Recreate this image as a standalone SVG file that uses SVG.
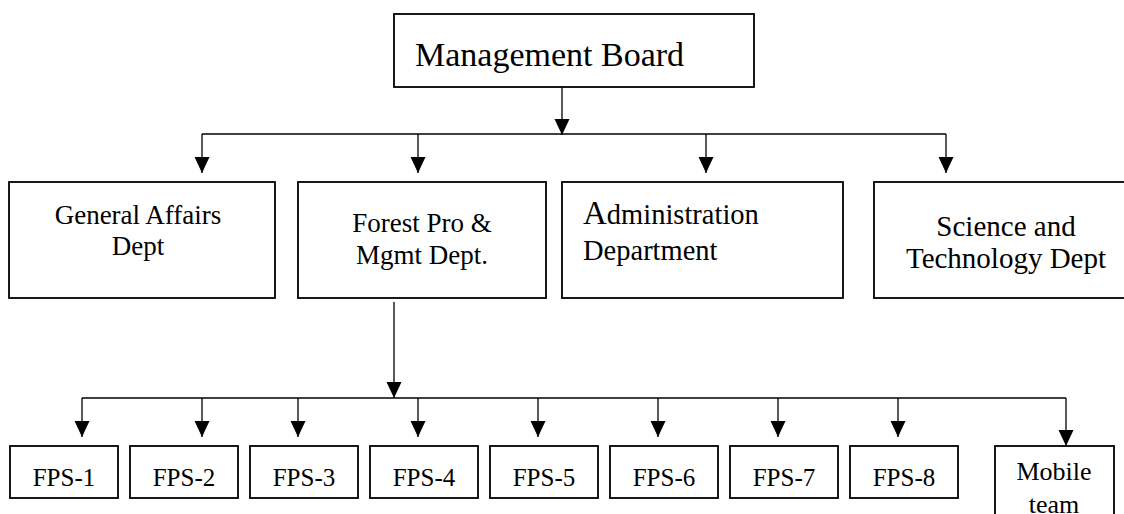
<svg xmlns="http://www.w3.org/2000/svg" width="1124" height="514" viewBox="0 0 1124 514">
<style>
.box{fill:#fff;stroke:#000;stroke-width:1.8}
.t{font-family:"Liberation Serif","Times New Roman",serif;fill:#000}
.c{fill:none;stroke:#000;stroke-width:1.3}
</style>
<defs>
<marker id="ah" markerWidth="16" markerHeight="16" refX="16" refY="8" orient="auto" markerUnits="userSpaceOnUse">
<path d="M0,0.5 L16,8 L0,15.5 z" fill="#000"/>
</marker>
</defs>
<rect width="1124" height="514" fill="#fff"/>
<g id="connectors">
<path class="c" d="M562,87 V135" marker-end="url(#ah)"/>
<path class="c" d="M202,134 H946"/>
<path class="c" d="M202,134 V173" marker-end="url(#ah)"/>
<path class="c" d="M418,134 V173" marker-end="url(#ah)"/>
<path class="c" d="M706,134 V173" marker-end="url(#ah)"/>
<path class="c" d="M946,134 V173" marker-end="url(#ah)"/>
<path class="c" d="M394,302 V398" marker-end="url(#ah)"/>
<path class="c" d="M82,398 H1066"/>
<path class="c" d="M82,398 V437" marker-end="url(#ah)"/>
<path class="c" d="M202,398 V437" marker-end="url(#ah)"/>
<path class="c" d="M298,398 V437" marker-end="url(#ah)"/>
<path class="c" d="M418,398 V437" marker-end="url(#ah)"/>
<path class="c" d="M538,398 V437" marker-end="url(#ah)"/>
<path class="c" d="M658,398 V437" marker-end="url(#ah)"/>
<path class="c" d="M778,398 V437" marker-end="url(#ah)"/>
<path class="c" d="M898,398 V437" marker-end="url(#ah)"/>
<path class="c" d="M1066,398 V446" marker-end="url(#ah)"/>
</g>
<g id="management-board">
<rect class="box" x="394" y="14" width="360" height="73"/>
<text class="t" x="415" y="66" font-size="34">Management Board</text>
</g>
<g id="general-affairs">
<rect class="box" x="9" y="182" width="266" height="116"/>
<text class="t" x="138" y="224" font-size="27" text-anchor="middle">General Affairs</text>
<text class="t" x="138" y="255" font-size="27" text-anchor="middle">Dept</text>
</g>
<g id="forest-pro">
<rect class="box" x="298" y="182" width="248" height="116"/>
<text class="t" x="422" y="232" font-size="27" text-anchor="middle">Forest Pro &amp;</text>
<text class="t" x="422" y="264" font-size="27" text-anchor="middle">Mgmt Dept.</text>
</g>
<g id="administration">
<rect class="box" x="562" y="182" width="281" height="116"/>
<text class="t" x="583" y="224" font-size="28.5"><tspan font-size="33">A</tspan>dministration</text>
<text class="t" x="583" y="260" font-size="28.5">Department</text>
</g>
<g id="science">
<rect class="box" x="874" y="182" width="260" height="116"/>
<text class="t" x="1006" y="236" font-size="29" text-anchor="middle">Science and</text>
<text class="t" x="1006" y="268" font-size="29" text-anchor="middle">Technology Dept</text>
</g>
<g id="fps-1"><rect class="box" x="10" y="446" width="108" height="52"/><text class="t" x="64" y="486" font-size="25" text-anchor="middle">FPS-1</text></g>
<g id="fps-2"><rect class="box" x="130" y="446" width="108" height="52"/><text class="t" x="184" y="486" font-size="25" text-anchor="middle">FPS-2</text></g>
<g id="fps-3"><rect class="box" x="250" y="446" width="108" height="52"/><text class="t" x="304" y="486" font-size="25" text-anchor="middle">FPS-3</text></g>
<g id="fps-4"><rect class="box" x="370" y="446" width="108" height="52"/><text class="t" x="424" y="486" font-size="25" text-anchor="middle">FPS-4</text></g>
<g id="fps-5"><rect class="box" x="490" y="446" width="108" height="52"/><text class="t" x="544" y="486" font-size="25" text-anchor="middle">FPS-5</text></g>
<g id="fps-6"><rect class="box" x="610" y="446" width="108" height="52"/><text class="t" x="664" y="486" font-size="25" text-anchor="middle">FPS-6</text></g>
<g id="fps-7"><rect class="box" x="730" y="446" width="108" height="52"/><text class="t" x="784" y="486" font-size="25" text-anchor="middle">FPS-7</text></g>
<g id="fps-8"><rect class="box" x="850" y="446" width="108" height="52"/><text class="t" x="904" y="486" font-size="25" text-anchor="middle">FPS-8</text></g>
<g id="mobile-team">
<rect class="box" x="995" y="446" width="119" height="90"/>
<text class="t" x="1054" y="480" font-size="26" text-anchor="middle">Mobile</text>
<text class="t" x="1054" y="513" font-size="26" text-anchor="middle">team</text>
</g>
</svg>
